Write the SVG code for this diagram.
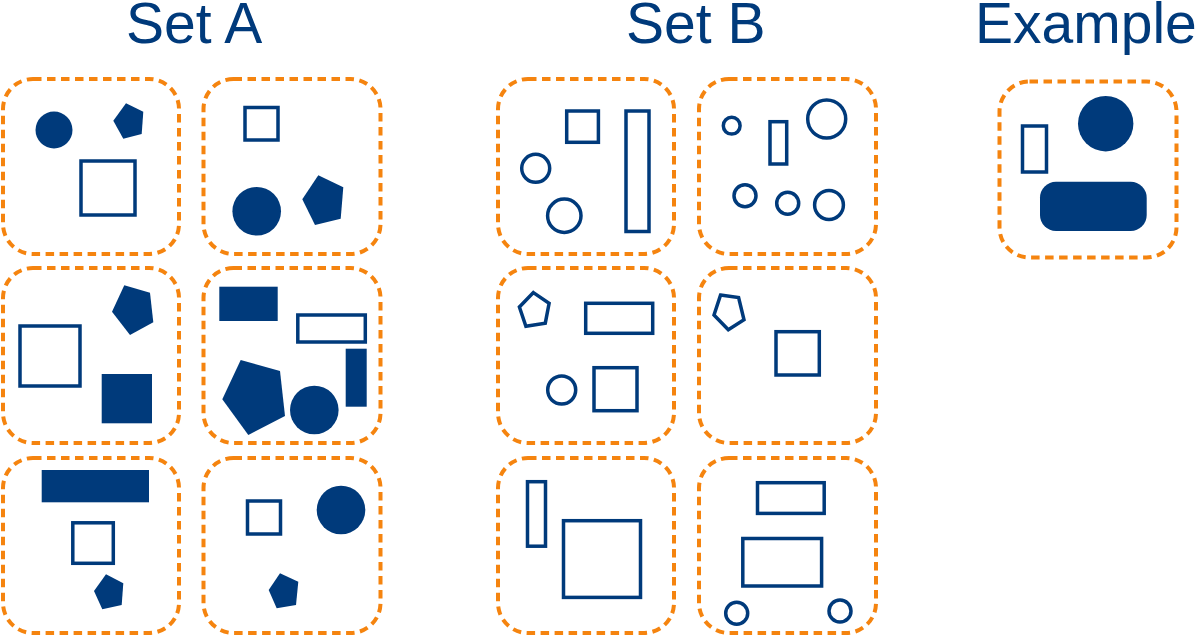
<svg xmlns="http://www.w3.org/2000/svg" width="1201" height="637" viewBox="0 0 1201 637">
<style>
.title{font-family:"Liberation Sans",Arial,sans-serif;font-size:57px;fill:#003A7B}
.panel{fill:none;stroke:#F5840F;stroke-width:4;stroke-dasharray:8.5 5.5}
.f{fill:#003A7B}
.o{fill:none;stroke:#003A7B;stroke-width:3.5}
</style>
<rect width="1201" height="637" fill="#fff"/>
<g id="titles">
<text class="title" x="126" y="43">Set A</text>
<text class="title" x="626" y="43">Set B</text>
<text class="title" x="975" y="43">Example</text>
</g>
<g id="connectors"></g>
<g id="setA-1">
<rect class="panel" x="3" y="79" width="176" height="175" rx="30"/>
<circle class="f" cx="54" cy="130" r="18.5"/>
<polygon class="f" points="126,103.3 143.3,111.7 141.7,134 123.3,138.7 113.3,120.7"/>
<rect class="o" x="81" y="161" width="54" height="54"/>
</g>
<g id="setA-2">
<rect class="panel" x="203.5" y="79" width="177" height="175" rx="30"/>
<rect class="o" x="245" y="107.5" width="33" height="32.5"/>
<circle class="f" cx="256.7" cy="211.3" r="24.3"/>
<polygon class="f" points="318.3,175.3 343.3,187.3 340.7,218.7 315,225 302.3,199.3"/>
</g>
<g id="setA-3">
<rect class="panel" x="3" y="268" width="176" height="175" rx="30"/>
<rect class="o" x="20" y="326" width="60" height="60"/>
<polygon class="f" points="124.3,285.3 150,292.7 153.3,322.3 130,335 112,311.7"/>
<rect class="f" x="101.7" y="374" width="50.3" height="49.3"/>
</g>
<g id="setA-4">
<rect class="panel" x="203.5" y="268" width="177" height="175" rx="30"/>
<rect class="f" x="219.3" y="286.7" width="58.4" height="34.3"/>
<rect class="o" x="297.8" y="315" width="67.5" height="27"/>
<rect class="f" x="345.7" y="348.7" width="21" height="58"/>
<polygon class="f" points="240.7,360 280,371 285,416 248.3,435 222.3,399.3"/>
<circle class="f" cx="314.3" cy="410" r="24.3"/>
</g>
<g id="setA-5">
<rect class="panel" x="3" y="458" width="176" height="175" rx="30"/>
<rect class="f" x="41.7" y="470" width="107.3" height="32.3"/>
<rect class="o" x="72.8" y="522.8" width="40.5" height="40.5"/>
<polygon class="f" points="106,574.3 123.3,583.3 121.7,605 102.3,609.3 94,591"/>
</g>
<g id="setA-6">
<rect class="panel" x="203.5" y="458" width="177" height="175" rx="30"/>
<rect class="o" x="247.5" y="501" width="33" height="33"/>
<circle class="f" cx="341" cy="510" r="24.3"/>
<polygon class="f" points="280,573.3 298.3,581.7 296,605 276.7,608.3 268.7,590"/>
</g>
<g id="setB-1">
<rect class="panel" x="498" y="79" width="176" height="175" rx="30"/>
<rect class="o" x="566.7" y="111" width="31.7" height="31.3"/>
<rect class="o" x="626" y="111" width="23" height="120.5"/>
<circle class="o" cx="535.7" cy="168.3" r="14"/>
<circle class="o" cx="564.3" cy="215.7" r="16.7"/>
</g>
<g id="setB-2">
<rect class="panel" x="699" y="79" width="177" height="175" rx="30"/>
<circle class="o" cx="731.7" cy="125.7" r="8.4"/>
<rect class="o" x="770" y="121.7" width="16.7" height="42.3"/>
<circle class="o" cx="826.7" cy="119" r="19"/>
<circle class="o" cx="745" cy="195.7" r="11"/>
<circle class="o" cx="787.7" cy="203.3" r="11"/>
<circle class="o" cx="829" cy="205" r="14.4"/>
</g>
<g id="setB-3">
<rect class="panel" x="498" y="268" width="176" height="175" rx="30"/>
<polygon class="o" points="533.4,292.6 549.1,303.3 545.3,323.2 525.9,326.3 519.4,307"/>
<rect class="o" x="585.7" y="303.3" width="67" height="30"/>
<circle class="o" cx="561.7" cy="390" r="14"/>
<rect class="o" x="594" y="367.7" width="43" height="43"/>
</g>
<g id="setB-4">
<rect class="panel" x="699" y="268" width="177" height="175" rx="30"/>
<polygon class="o" points="720.5,295.1 738.6,297.6 744,319.8 728.3,329.7 714,315"/>
<rect class="o" x="776" y="331.7" width="43.3" height="43.3"/>
</g>
<g id="setB-5">
<rect class="panel" x="498" y="458" width="176" height="175" rx="30"/>
<rect class="o" x="527.5" y="481.7" width="18" height="64.5"/>
<rect class="o" x="563.5" y="520.7" width="77" height="76.7"/>
</g>
<g id="setB-6">
<rect class="panel" x="699" y="458" width="177" height="175" rx="30"/>
<rect class="o" x="757.5" y="482.7" width="66.7" height="30.7"/>
<rect class="o" x="742.8" y="538.5" width="78.8" height="47.5"/>
<circle class="o" cx="736.7" cy="613.3" r="11"/>
<circle class="o" cx="840" cy="611" r="11"/>
</g>
<g id="example">
<rect class="panel" x="999.5" y="81.5" width="177" height="176" rx="30"/>
<rect class="o" x="1022.5" y="126" width="24" height="46"/>
<circle class="f" cx="1105.7" cy="123.7" r="27.7"/>
<rect class="f" x="1040" y="181.7" width="106.7" height="49.3" rx="16"/>
</g>
</svg>
